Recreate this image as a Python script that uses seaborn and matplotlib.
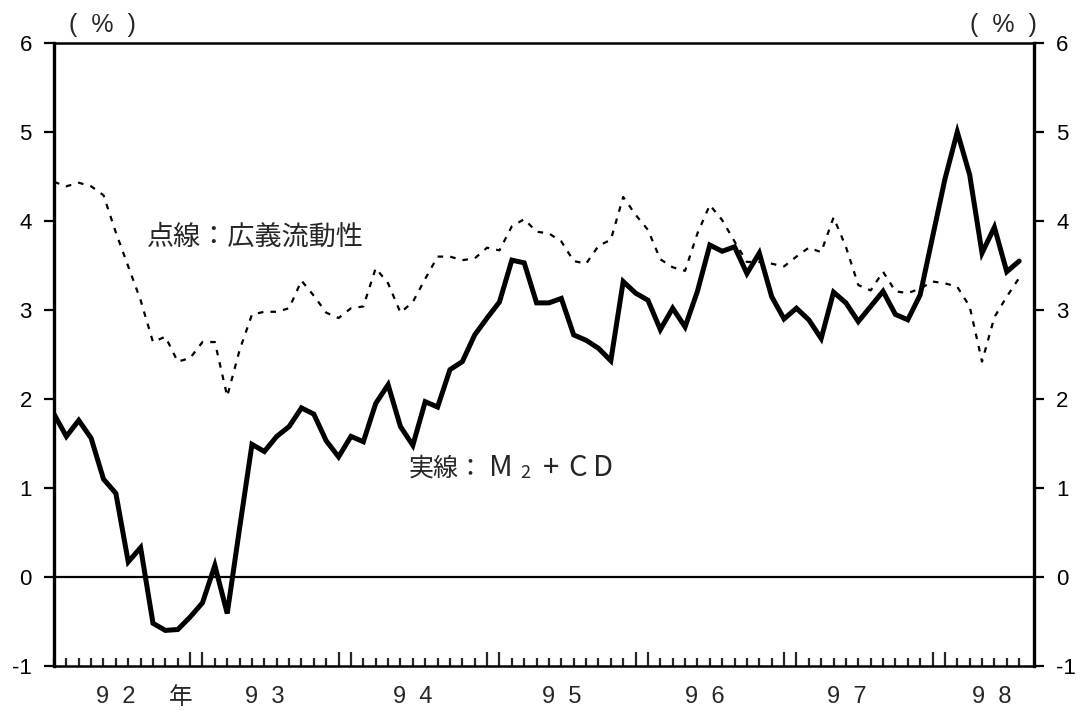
import numpy as np
import pandas as pd
import matplotlib
matplotlib.use("Agg")
import matplotlib.pyplot as plt
import seaborn as sns

# ── Data (monthly, Jan 1992 .. Jul 1998, % y/y) ─────────────
m2cd = [1.83, 1.58, 1.76, 1.56, 1.10, 0.94, 0.17, 0.33, -0.52, -0.60,
        -0.59, -0.45, -0.29, 0.13, -0.41, 0.55, 1.49, 1.41, 1.58, 1.69,
        1.90, 1.83, 1.53, 1.35, 1.58, 1.52, 1.95, 2.16, 1.69, 1.48,
        1.97, 1.91, 2.33, 2.42, 2.72, 2.91, 3.09, 3.56, 3.53, 3.08,
        3.08, 3.13, 2.72, 2.66, 2.57, 2.43, 3.32, 3.19, 3.11, 2.78,
        3.02, 2.81, 3.21, 3.73, 3.66, 3.71, 3.41, 3.64, 3.15, 2.90,
        3.02, 2.89, 2.68, 3.20, 3.08, 2.87, 3.04, 3.21, 2.95, 2.89,
        3.17, 3.82, 4.47, 5.00, 4.52, 3.64, 3.93, 3.43, 3.55]

kougi = [4.44, 4.39, 4.43, 4.39, 4.29, 3.87, 3.49, 3.11, 2.64, 2.70,
         2.42, 2.46, 2.64, 2.64, 2.03, 2.55, 2.95, 2.98, 2.98, 3.02,
         3.33, 3.16, 2.97, 2.91, 3.02, 3.04, 3.47, 3.30, 2.97, 3.09,
         3.35, 3.60, 3.60, 3.56, 3.58, 3.70, 3.67, 3.94, 4.02, 3.88,
         3.86, 3.77, 3.55, 3.52, 3.72, 3.79, 4.27, 4.07, 3.90, 3.57,
         3.48, 3.44, 3.86, 4.18, 4.01, 3.77, 3.54, 3.54, 3.52, 3.49,
         3.60, 3.70, 3.65, 4.04, 3.71, 3.28, 3.22, 3.43, 3.21, 3.19,
         3.24, 3.32, 3.30, 3.26, 3.04, 2.42, 2.92, 3.15, 3.36]

year_labels = ["9  2", "9  3", "9  4", "9  5", "9  6", "9  7", "9  8"]
year_label_pos = [5, 17, 29, 41, 52.6, 64.1, 75.8]
yticks = [-1, 0, 1, 2, 3, 4, 5, 6]

df = pd.DataFrame({"month": np.arange(len(m2cd)), "m2cd": m2cd, "kougi": kougi})

# ── Style ───────────────────────────────────────────────
sns.set_style("white")
plt.rcParams["font.family"] = ["Liberation Sans", "Noto Sans CJK JP", "DejaVu Sans"]
CJK = ["Noto Sans CJK JP", "DejaVu Sans"]

fig = plt.figure(figsize=(10.8, 7.15), dpi=100)
ax = fig.add_axes([54 / 1080, 1 - 666 / 715, 980 / 1080, 623 / 715])

sns.lineplot(data=df, x="month", y="kougi", ax=ax, color="black", lw=1.6,
             linestyle=(0, (2.5, 3.2)), estimator=None)
sns.lineplot(data=df, x="month", y="m2cd", ax=ax, color="black", lw=3.6,
             estimator=None, solid_joinstyle="miter")
ax.axhline(0, color="black", lw=1.6)

ax.set_xlim(0, 79.2)
ax.set_ylim(-1, 6)
ax.set_xlabel("")
ax.set_ylabel("")

# y axis on both sides
ax.set_yticks(yticks)
ax.set_yticklabels([str(v) for v in yticks])
ax.tick_params(axis="y", which="major", left=True, right=True, labelleft=True,
               labelright=True, direction="out", length=7, width=1.6,
               labelsize=16, pad=9, colors="black")

# x axis: monthly ticks pointing inward, taller around each year end
months = np.arange(len(m2cd))
tall = [m for m in months if m % 12 in (11, 0) and m > 0]
short = [m for m in months if m not in tall]
ax.set_xticks(tall)
ax.set_xticks(short, minor=True)
ax.set_xticklabels([])
ax.tick_params(axis="x", which="major", direction="in", length=10, width=1.6,
               bottom=True, top=False)
ax.tick_params(axis="x", which="minor", direction="in", length=6, width=1.6,
               bottom=True, top=False)

for sp in ax.spines.values():
    sp.set_color("black")
    sp.set_linewidth(1.8)
ax.spines["left"].set_linewidth(2.4)
ax.spines["right"].set_linewidth(2.4)

trans = ax.get_xaxis_transform()
for lbl, pos in zip(year_labels, year_label_pos):
    ax.text(pos, -0.05, lbl, transform=trans, ha="center", va="center",
            fontsize=17)
ax.text(10.2, -0.05, "年", transform=trans, ha="center", va="center",
        fontsize=17, family=CJK)

# annotations
ax.text(7.5, 3.82, "点線：広義流動性", ha="left", va="center",
        fontsize=19.5, family=CJK)
ax.text(28.7, 1.22, "実線：", ha="left", va="center", fontsize=18, family=CJK)
for tok, xpos in zip(["M", "+", "C", "D"], [36.1, 40.2, 42.3, 44.4]):
    ax.text(xpos, 1.22, tok, ha="center", va="center", fontsize=21, family=CJK)
ax.text(38.1, 1.17, "2", ha="center", va="center", fontsize=13, family=CJK)

fig.text(102 / 1080, 1 - 25 / 715, "(  %  )", ha="center", va="center",
         fontsize=18)
fig.text(1003 / 1080, 1 - 25 / 715, "(  %  )", ha="center", va="center",
         fontsize=18)

fig.savefig("out.png", dpi=100)
